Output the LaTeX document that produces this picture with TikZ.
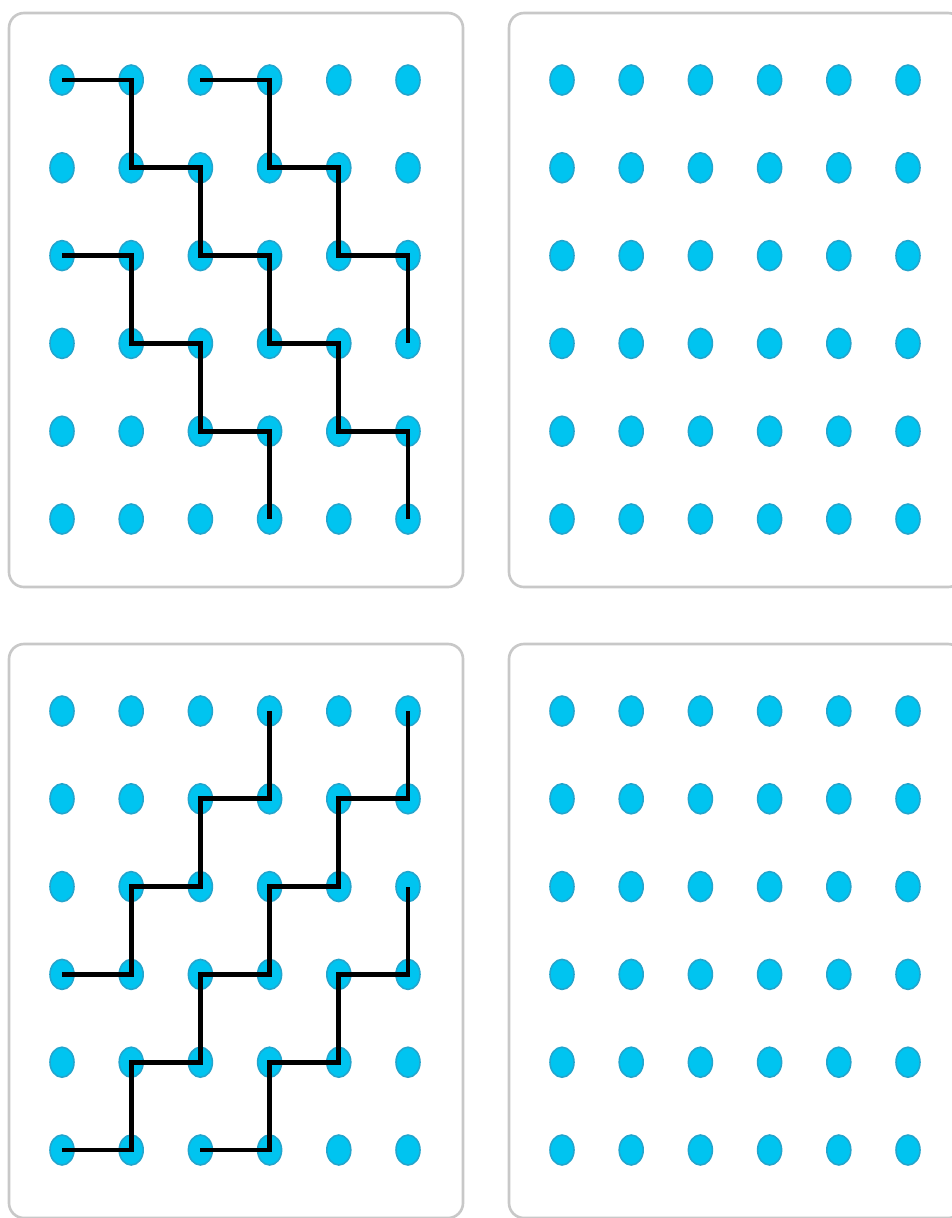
\documentclass[tikz,border=0pt]{standalone}
\usetikzlibrary{shapes.geometric}
\definecolor{dotcyan}{RGB}{0,196,240}
\definecolor{dotrim}{RGB}{35,165,205}
\definecolor{panelgray}{RGB}{200,200,200}
\begin{document}
\begin{tikzpicture}[x=0.02cm,y=-0.02cm,
        dot/.style={ellipse,fill=dotcyan,draw=dotrim,line width=0.9pt,inner sep=0pt,minimum width=0.48cm,minimum height=0.6cm},
        panel/.style={draw=panelgray,line width=1.5pt,rounded corners=0.3cm,fill=white},
        stair/.style={line width=2.7pt,black}]
        \useasboundingbox (0,0) rectangle (952,1218);
        \clip (0,0) rectangle (952,1218);

        % Panels and dots
        \foreach \px/\py/\pn in {0/0/tl,500/0/tr,0/631/bl,500/631/br}{
            \draw[panel] (9+\px,13+\py) rectangle (463+\px,587+\py);
            \foreach \i in {0,...,5}
                \foreach \j in {0,...,5}
                    \node[dot] (\pn-\i-\j) at ({62+\px+69.2*\i},{80+\py+87.8*\j}) {};
        }

        % Connections, top left
        \draw[stair] (tl-0-0.center) -- (tl-1-0.center) -- (tl-1-1.center) -- (tl-2-1.center) -- (tl-2-2.center) -- (tl-3-2.center)
            -- (tl-3-3.center) -- (tl-4-3.center) -- (tl-4-4.center) -- (tl-5-4.center) -- (tl-5-5.center);
        \draw[stair] (tl-2-0.center) -- (tl-3-0.center) -- (tl-3-1.center) -- (tl-4-1.center) -- (tl-4-2.center) -- (tl-5-2.center)
            -- (tl-5-3.center);
        \draw[stair] (tl-0-2.center) -- (tl-1-2.center) -- (tl-1-3.center) -- (tl-2-3.center) -- (tl-2-4.center) -- (tl-3-4.center)
            -- (tl-3-5.center);

        % Connections, bottom left
        \draw[stair] (bl-0-3.center) -- (bl-1-3.center) -- (bl-1-2.center) -- (bl-2-2.center) -- (bl-2-1.center) -- (bl-3-1.center)
            -- (bl-3-0.center);
        \draw[stair] (bl-0-5.center) -- (bl-1-5.center) -- (bl-1-4.center) -- (bl-2-4.center) -- (bl-2-3.center) -- (bl-3-3.center)
            -- (bl-3-2.center) -- (bl-4-2.center) -- (bl-4-1.center) -- (bl-5-1.center) -- (bl-5-0.center);
        \draw[stair] (bl-2-5.center) -- (bl-3-5.center) -- (bl-3-4.center) -- (bl-4-4.center) -- (bl-4-3.center) -- (bl-5-3.center)
            -- (bl-5-2.center);
    \end{tikzpicture}
\end{document}
